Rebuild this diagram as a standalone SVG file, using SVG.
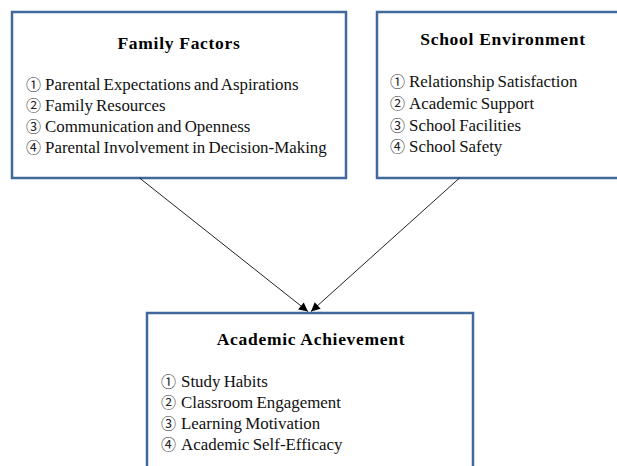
<svg xmlns="http://www.w3.org/2000/svg" width="617" height="466" viewBox="0 0 617 466">
<defs>
<style>
.box{fill:#fff;stroke:#41699b;stroke-width:2.5}
.t{font-family:"Liberation Serif","DejaVu Serif",serif;font-weight:bold;font-size:17.5px;fill:#000;text-anchor:middle;letter-spacing:0.7px}
.i{font-family:"Liberation Serif","DejaVu Serif",serif;font-size:16.9px;fill:#111;word-spacing:-1px}
.c{font-family:"Noto Sans CJK SC","DejaVu Sans",sans-serif;font-size:15px;fill:#222}
.ln{stroke:#222;stroke-width:1;fill:none}
</style>
<marker id="ah" viewBox="0 0 10 10" refX="10" refY="5" markerWidth="10" markerHeight="9" markerUnits="userSpaceOnUse" orient="auto">
<path d="M0,0 L10,5 L0,10 z" fill="#000"/>
</marker>
</defs>
<g id="family">
<rect class="box" x="12" y="12" width="334" height="166"/>
<text class="t" x="179" y="49">Family Factors</text>
<text class="i" y="90"><tspan class="c" x="26">①</tspan><tspan x="45">Parental Expectations and Aspirations</tspan></text>
<text class="i" y="111"><tspan class="c" x="26">②</tspan><tspan x="45">Family Resources</tspan></text>
<text class="i" y="132"><tspan class="c" x="26">③</tspan><tspan x="45">Communication and Openness</tspan></text>
<text class="i" y="153"><tspan class="c" x="26">④</tspan><tspan x="45">Parental Involvement in Decision-Making</tspan></text>
</g>
<g id="school">
<rect class="box" x="377" y="12" width="250" height="166"/>
<text class="t" x="503" y="45">School Environment</text>
<text class="i" y="87"><tspan class="c" x="390">①</tspan><tspan x="409">Relationship Satisfaction</tspan></text>
<text class="i" y="109"><tspan class="c" x="390">②</tspan><tspan x="409">Academic Support</tspan></text>
<text class="i" y="131"><tspan class="c" x="390">③</tspan><tspan x="409">School Facilities</tspan></text>
<text class="i" y="152"><tspan class="c" x="390">④</tspan><tspan x="409">School Safety</tspan></text>
</g>
<g id="achievement">
<rect class="box" x="147" y="313" width="326" height="170"/>
<text class="t" x="311" y="345">Academic Achievement</text>
<text class="i" y="387"><tspan class="c" x="161">①</tspan><tspan x="181">Study Habits</tspan></text>
<text class="i" y="408"><tspan class="c" x="161">②</tspan><tspan x="181">Classroom Engagement</tspan></text>
<text class="i" y="429"><tspan class="c" x="161">③</tspan><tspan x="181">Learning Motivation</tspan></text>
<text class="i" y="450"><tspan class="c" x="161">④</tspan><tspan x="181">Academic Self-Efficacy</tspan></text>
</g>
<g id="connectors">
<line class="ln" x1="139.5" y1="178" x2="308" y2="311.5" marker-end="url(#ah)"/>
<line class="ln" x1="459.5" y1="178" x2="311" y2="311.5" marker-end="url(#ah)"/>
</g>
</svg>
